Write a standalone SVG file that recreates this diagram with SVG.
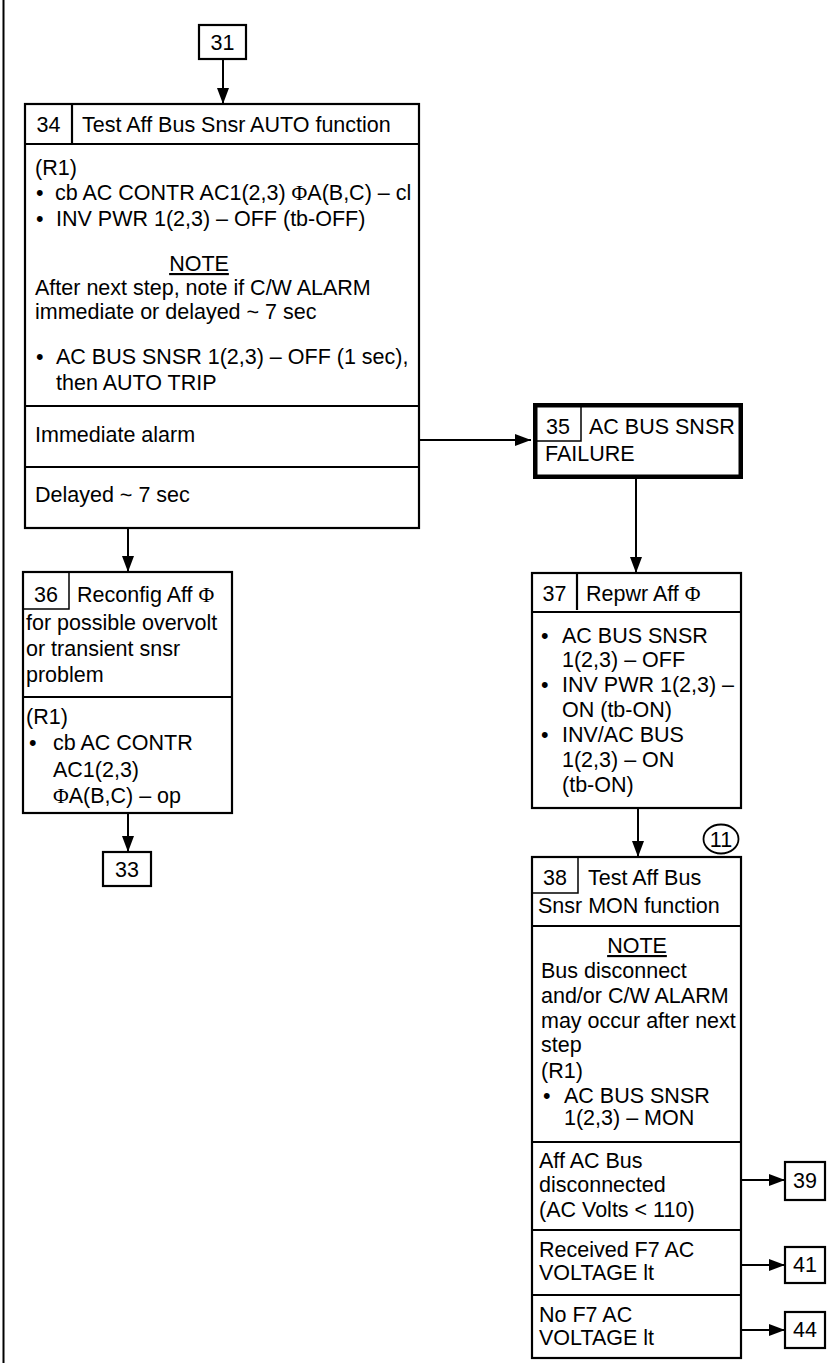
<svg xmlns="http://www.w3.org/2000/svg" width="833" height="1363" viewBox="0 0 833 1363">
<style>
.bx{fill:#fff;stroke:#000;stroke-width:2.2}
.thk{fill:#fff;stroke:#000;stroke-width:4.5}
.ln{stroke:#000;stroke-width:2.2;fill:none}
.thin{stroke:#000;stroke-width:1.5;fill:none}
.cn{stroke:#000;stroke-width:2;fill:none}
text{font-family:"Liberation Sans",Arial,sans-serif;font-size:21.5px;fill:#000}
.m{text-anchor:middle}
.u{text-decoration:underline}
.ph{font-family:"Liberation Serif","Times New Roman",serif}
</style>
<defs>
<marker id="ah" markerUnits="userSpaceOnUse" markerWidth="16" markerHeight="12" refX="16" refY="6" orient="auto">
<path d="M0,0 L16,6 L0,12 Z" fill="#000"/>
</marker>
</defs>
<rect x="0" y="0" width="833" height="1363" fill="#fff"/>
<line x1="3.5" y1="0" x2="3.5" y2="1363" stroke="#000" stroke-width="2"/>

<g id="connectors">
<line class="cn" x1="223" y1="59" x2="223" y2="104" marker-end="url(#ah)"/>
<line class="cn" x1="419" y1="440" x2="531" y2="440" marker-end="url(#ah)"/>
<line class="cn" x1="128" y1="528" x2="128" y2="572" marker-end="url(#ah)"/>
<line class="cn" x1="636" y1="479" x2="636" y2="573" marker-end="url(#ah)"/>
<line class="cn" x1="128" y1="813" x2="128" y2="852" marker-end="url(#ah)"/>
<line class="cn" x1="638" y1="808" x2="638" y2="857" marker-end="url(#ah)"/>
<line class="cn" x1="741" y1="1180" x2="785" y2="1180" marker-end="url(#ah)"/>
<line class="cn" x1="741" y1="1265" x2="785" y2="1265" marker-end="url(#ah)"/>
<line class="cn" x1="741" y1="1330" x2="785" y2="1330" marker-end="url(#ah)"/>
</g>

<g id="n31">
<rect class="bx" x="199" y="25" width="47" height="34"/>
<text class="m" x="222.5" y="50">31</text>
</g>

<g id="n34">
<rect class="bx" x="25" y="104" width="394" height="424"/>
<line class="ln" x1="25" y1="144" x2="419" y2="144"/>
<line class="ln" x1="72" y1="104" x2="72" y2="144"/>
<text class="m" x="48.5" y="132">34</text>
<text x="82" y="132">Test Aff Bus Snsr AUTO function</text>
<text x="35" y="175">(R1)</text>
<text x="36" y="200">•</text>
<text x="55" y="200">cb AC CONTR AC1(2,3) <tspan class="ph">Φ</tspan>A(B,C) – cl</text>
<text x="36" y="226">•</text>
<text x="56" y="226">INV PWR 1(2,3) – OFF (tb-OFF)</text>
<text class="m u" x="199" y="271">NOTE</text>
<text x="35" y="295">After next step, note if C/W ALARM</text>
<text x="35" y="319">immediate or delayed ~ 7 sec</text>
<text x="36" y="364">•</text>
<text x="56" y="364">AC BUS SNSR 1(2,3) – OFF (1 sec),</text>
<text x="56" y="390">then AUTO TRIP</text>
<line class="ln" x1="25" y1="406" x2="419" y2="406"/>
<text x="35" y="442">Immediate alarm</text>
<line class="ln" x1="25" y1="467" x2="419" y2="467"/>
<text x="35" y="502">Delayed ~ 7 sec</text>
</g>

<g id="n35">
<rect class="thk" x="535.25" y="405.25" width="205.5" height="71.5"/>
<polyline class="thin" points="581,405 581,441 535,441"/>
<text class="m" x="558" y="434">35</text>
<text x="589" y="434">AC BUS SNSR</text>
<text x="545" y="461">FAILURE</text>
</g>

<g id="n36">
<rect class="bx" x="23" y="572" width="209" height="241"/>
<polyline class="thin" points="69,572 69,609 23,609"/>
<text class="m" x="46" y="602">36</text>
<text x="77" y="602">Reconfig Aff <tspan class="ph">Φ</tspan></text>
<text x="26" y="630">for possible overvolt</text>
<text x="26" y="656">or transient snsr</text>
<text x="26" y="682">problem</text>
<line class="ln" x1="23" y1="697" x2="232" y2="697"/>
<text x="26" y="724">(R1)</text>
<text x="29" y="750">•</text>
<text x="53" y="750">cb AC CONTR</text>
<text x="53" y="777">AC1(2,3)</text>
<text x="53" y="803"><tspan class="ph">Φ</tspan>A(B,C) – op</text>
</g>

<g id="n33">
<rect class="bx" x="103" y="852" width="48" height="34"/>
<text class="m" x="127" y="877">33</text>
</g>

<g id="n37">
<rect class="bx" x="532" y="573" width="209" height="235"/>
<line class="ln" x1="532" y1="612" x2="741" y2="612"/>
<line class="ln" x1="577" y1="573" x2="577" y2="610"/>
<text class="m" x="554.5" y="601">37</text>
<text x="586" y="601">Repwr Aff <tspan class="ph">Φ</tspan></text>
<text x="541" y="643">•</text>
<text x="562" y="643">AC BUS SNSR</text>
<text x="562" y="667">1(2,3) – OFF</text>
<text x="541" y="692">•</text>
<text x="562" y="692">INV PWR 1(2,3) –</text>
<text x="562" y="717">ON (tb-ON)</text>
<text x="541" y="742">•</text>
<text x="562" y="742">INV/AC BUS</text>
<text x="562" y="767">1(2,3) – ON</text>
<text x="562" y="792">(tb-ON)</text>
</g>

<g id="c11">
<ellipse cx="721" cy="839" rx="17.5" ry="14.5" fill="#fff" stroke="#000" stroke-width="1.8"/>
<text class="m" x="721" y="846.5">11</text>
</g>

<g id="n38">
<rect class="bx" x="532" y="857" width="209" height="501"/>
<polyline class="thin" points="578,857 578,893 532,893"/>
<text class="m" x="555" y="885">38</text>
<text x="588" y="885">Test Aff Bus</text>
<text x="538" y="913">Snsr MON function</text>
<line class="ln" x1="532" y1="926" x2="741" y2="926"/>
<text class="m u" x="637" y="953">NOTE</text>
<text x="541" y="978">Bus disconnect</text>
<text x="541" y="1003">and/or C/W ALARM</text>
<text x="541" y="1028">may occur after next</text>
<text x="541" y="1052">step</text>
<text x="541" y="1078">(R1)</text>
<text x="543" y="1103">•</text>
<text x="564" y="1103">AC BUS SNSR</text>
<text x="564" y="1125">1(2,3) – MON</text>
<line class="ln" x1="532" y1="1142" x2="741" y2="1142"/>
<text x="539" y="1168">Aff AC Bus</text>
<text x="539" y="1192">disconnected</text>
<text x="539" y="1217">(AC Volts &lt; 110)</text>
<line class="ln" x1="532" y1="1230" x2="741" y2="1230"/>
<text x="539" y="1257">Received F7 AC</text>
<text x="539" y="1280">VOLTAGE lt</text>
<line class="ln" x1="532" y1="1295" x2="741" y2="1295"/>
<text x="539" y="1322">No F7 AC</text>
<text x="539" y="1345">VOLTAGE lt</text>
</g>

<g id="n39">
<rect class="bx" x="785" y="1162" width="40" height="38"/>
<text class="m" x="805" y="1188">39</text>
</g>
<g id="n41">
<rect class="bx" x="785" y="1247" width="40" height="36"/>
<text class="m" x="805" y="1272">41</text>
</g>
<g id="n44">
<rect class="bx" x="785" y="1312" width="40" height="36"/>
<text class="m" x="805" y="1337">44</text>
</g>
</svg>
